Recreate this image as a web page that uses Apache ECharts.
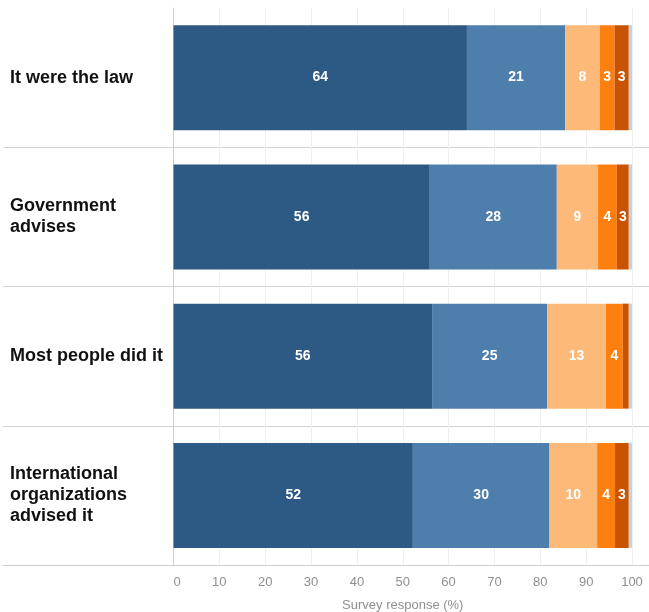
<!DOCTYPE html>
<html>
<head>
<meta charset="utf-8">
<script src="https://cdn.jsdelivr.net/npm/echarts@6/dist/echarts.min.js"></script>
<style>html,body{margin:0;padding:0;background:#fff}#c{width:649px;height:612px}</style>
</head>
<body>
<div id="c"></div>
<script>
const categories = ['It were the law', 'Government advises', 'Most people did it', 'International organizations advised it'];
const seriesNames = ['Very likely', 'Somewhat likely', 'Neither', 'Somewhat unlikely', 'Very unlikely', 'No answer'];
const veryLikely       = [64.0, 55.9, 56.4, 52.2];
const somewhatLikely   = [21.4, 27.7, 25.1, 29.8];
const neither          = [7.6, 9.0, 12.8, 10.4];
const somewhatUnlikely = [3.2, 4.1, 3.7, 3.9];
const veryUnlikely     = [3.1, 2.6, 1.3, 3.0];
const noAnswer         = [0.7, 0.7, 0.7, 0.7];
const xTicks = [0, 10, 20, 30, 40, 50, 60, 70, 80, 90, 100];

const colors = ['#2d5985', '#4d7eac', '#fdb978', '#fc7f10', '#c95300', '#c6d1dd'];
const seriesData = [veryLikely, somewhatLikely, neither, somewhatUnlikely, veryUnlikely, noAnswer];
const FONT = 'Arial, "Liberation Sans", Helvetica, sans-serif';

const chart = echarts.init(document.getElementById('c'), null, {renderer: 'canvas'});
chart.setOption({
  animation: false,
  textStyle: {fontFamily: FONT},
  grid: [
    {left: 3, right: 0, top: 8, bottom: 47, containLabel: false, outerBoundsMode: 'none'},
    {left: 173.5, right: 17, top: 8, bottom: 47, containLabel: false, outerBoundsMode: 'none'}
  ],
  xAxis: [
    {gridIndex: 0, type: 'value', min: 0, max: 100,
     axisLine: {show: true, lineStyle: {color: '#cfcfcf', width: 1}},
     axisTick: {show: false}, axisLabel: {show: false}, splitLine: {show: false}},
    {gridIndex: 1, type: 'value', min: xTicks[0], max: xTicks[xTicks.length - 1], interval: 10,
     axisLine: {show: false}, axisTick: {show: false},
     axisLabel: {color: '#8f8f8f', fontSize: 13, margin: 11, fontFamily: FONT, alignMinLabel: 'left'},
     splitLine: {show: true, lineStyle: {color: '#efefef', width: 1}},
     name: 'Survey response (%)', nameLocation: 'middle', nameGap: 34,
     nameTextStyle: {color: '#8f8f8f', fontSize: 13, fontFamily: FONT}}
  ],
  yAxis: [
    {gridIndex: 0, type: 'category', data: categories, inverse: true,
     axisLine: {show: false}, axisTick: {show: false},
     axisLabel: {inside: true, margin: 7, color: '#111', fontWeight: 'bold', fontSize: 18,
                 lineHeight: 21, width: 160, overflow: 'break', fontFamily: FONT},
     splitLine: {show: true, showMinLine: false, showMaxLine: false,
                 lineStyle: {color: '#d2d2d2', width: 1}}},
    {gridIndex: 1, type: 'category', data: categories, inverse: true,
     axisLine: {show: true, lineStyle: {color: '#cfcfcf', width: 1}},
     axisTick: {show: false}, axisLabel: {show: false}, splitLine: {show: false}}
  ],
  series: seriesData.map((d, i) => ({
    name: seriesNames[i], type: 'bar', stack: 'total',
    xAxisIndex: 1, yAxisIndex: 1, barWidth: 105,
    itemStyle: {color: colors[i]},
    data: d,
    label: {
      show: i < 5, position: 'inside', color: '#fff', fontWeight: 'bold', fontSize: 14, fontFamily: FONT,
      formatter: p => (p.value >= 2.5 ? String(Math.round(p.value)) : '')
    }
  }))
});
</script>
</body>
</html>
